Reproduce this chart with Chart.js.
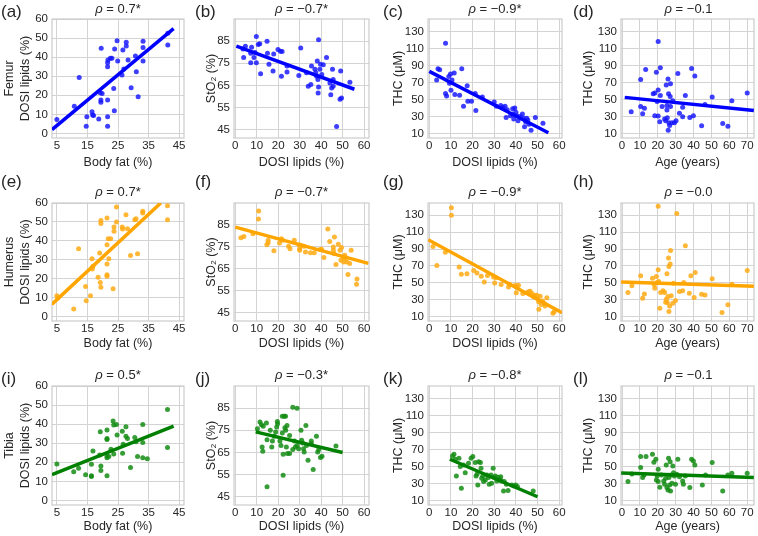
<!DOCTYPE html>
<html lang="en">
<head>
    <meta charset="UTF-8">
    <title>DOSI lipids, StO2 and THC - scatter panels</title>
    <style>
        body {
            margin: 0;
            background: #fff;
            font-family: "Liberation Sans", Arial, sans-serif;
            color: #262626;
        }
        #fig {
            position: relative;
            width: 758px;
            height: 536px;
            overflow: hidden;
        }
        .tag {
            position: absolute;
            font-size: 17px;
            line-height: 17px;
        }
        .rho {
            position: absolute;
            font-size: 13px;
            line-height: 16px;
            text-align: center;
            white-space: nowrap;
        }
    </style>
    <script src="https://cdn.jsdelivr.net/npm/chart.js"></script>
</head>
<body>
<div id="fig"></div>
<script>
    // tick values
    const fatTicks = [5, 15, 25, 35, 45];
    const lipidTicks = [0, 10, 20, 30, 40, 50, 60];
    const sto2Ticks = [45, 55, 65, 75, 85];
    const thcTicks = [10, 30, 50, 70, 90, 110, 130];
    const ageTicks = [0, 10, 20, 30, 40, 50, 60, 70];

    // axis limits
    const fatRange = [3.4, 46.6];
    const lipidRangeB = [-0.6, 62.3];
    const lipidRangeC = [-0.6, 61.3];
    const ageRange = [-0.6, 73.8];
    const lipidYRange = [-2.4, 60];
    const sto2Range = [41.3, 95];
    const thcRange = [4.8, 144.5];

    const boneNames = ['Femur', 'Humerus', 'Tibia'];
    const rhoLabels = ['0.7*', '−0.7*', '−0.9*', '−0.1',
                       '0.7*', '−0.7*', '−0.9*', '−0.0',
                       '0.5*', '−0.3*', '−0.8*', '−0.1'];

    // (a) femur lipids vs body fat
    const ptsA = [[5,7.3],[10.7,14.3],[12.3,29.3],[14.6,3.8],[14.8,8.7],[16.5,11.4],[16.7,9.6],[17,9.4],[18.7,7.5],[19.4,17.5],[19.4,16.3],[19.5,44.6],[19.2,21.3],[19.8,21],[21.6,3.8],[21.6,8.7],[21.6,17.5],[21.6,35],[21.6,37.1],[21.7,38.5],[22.5,39.4],[23,39.4],[23.6,23.6],[23.8,11.9],[23.9,44.3],[24.7,48.6],[24.9,38],[26.3,30.6],[26.6,43.7],[26.9,33.8],[27.7,45.8],[27.7,47.8],[28.3,38.5],[29.3,24],[30.7,40.6],[31,32.4],[31.6,19.2],[33.2,48.3],[33.2,45.1],[33.2,38],[41.3,46.4],[41.3,52.5]];
    const fitA = [[3.4, 2], [43.2, 55]];

    // (b) StO2 vs femur lipids
    const ptsB = [[3.6,81.5],[3.9,77.6],[4.7,82.7],[7.2,79.6],[7.2,75.3],[7.6,82.2],[8.7,77.6],[9.2,79.9],[9.8,75.3],[9.8,87.1],[10.7,83.5],[11.4,83.8],[11.8,70.3],[14.8,85],[15,79.5],[15.7,74.6],[17.6,71.5],[17.9,79.2],[19.9,81.2],[21,80.4],[21.5,69.2],[21.8,80.3],[24.1,71.1],[24.1,73.8],[29.6,69.5],[30.5,81.9],[33.2,70.7],[34,64.6],[35.2,65.4],[35.5,73.8],[37.1,72.3],[37.5,70.7],[37.9,69.2],[38.2,76.1],[38.5,67.7],[38.6,61.6],[38.8,64.3],[38.8,85.6],[39.4,72.3],[39.7,74.6],[40.3,70],[41,74.3],[42.5,77.6],[44.1,66.1],[44.5,60.8],[44.9,63.9],[45.3,72.3],[45.6,64.6],[45.6,67.7],[47.2,46.5],[49.1,71.5],[48.8,58.8],[49.5,59.3],[53.4,66.5]];
    const fitB = [[0.5, 82.8], [55.5, 63.3]];

    // (c) THC vs femur lipids
    const ptsC = [[3.4,73],[4,86],[4.8,85],[7.5,116],[7.5,57],[8,54],[9,77],[9.3,69],[9.8,80],[10,61],[10.5,73],[11.5,81],[11.8,56],[14,55],[15,86],[15.8,42],[17.5,66],[17.8,48],[19.5,48],[21.2,57],[21.5,37],[24.5,53],[30,47],[31,42],[33,43],[34,41],[35,42],[35.5,29],[36,38],[37.5,31],[38.5,33],[38.5,39],[39,27],[39.5,40],[40,35],[40.5,31],[41,25],[42,30],[43,33],[43.5,28],[44,18],[44.5,24],[45,28],[45.5,26],[46,21],[47,14],[49,29],[52.5,22]];
    const fitC = [[0, 83], [55, 11]];

    // (d) femur THC vs age
    const ptsD = [[5.1,35.7],[10.4,73.4],[10.4,41.7],[11.5,33.4],[12.5,39.7],[13.2,85.2],[17.4,56.7],[18.3,57.5],[18.3,31],[19.2,82.1],[19.6,47.6],[20.2,61.1],[20.2,30.6],[20.2,118.1],[21.4,87.2],[21.4,54.8],[21.1,23.9],[22.4,41.7],[23.8,27],[24.4,25],[24.7,67],[25.1,37.7],[25.1,42.9],[25.3,28.6],[25.7,74.2],[26,56.7],[26.2,22.7],[26.6,19.5],[25.8,14],[26.9,53.6],[27.1,41.7],[27.1,68.6],[27.9,22.7],[28.4,48.4],[29.3,22.7],[30.2,25],[31.2,80.5],[32.1,33.8],[33.9,40.9],[33.9,29.8],[35.4,54.8],[37.9,29],[38.9,86.4],[39.9,31],[40.7,77.7],[44.5,19.1],[46.4,44.1],[50.4,52.8],[56.3,21.9],[59.2,18.7],[61.4,48.4],[70,57.5]];
    const fitD = [[1.5, 52.5], [73.7, 37]];

    // (e) humerus lipids vs body fat
    const ptsE = [[5,10.9],[5.3,9.7],[10.5,3.9],[12.1,35.8],[14.4,15.9],[14.6,8.3],[16,10.9],[16.5,30.5],[16.6,25.1],[16.8,26.5],[18.5,20.8],[19,33.5],[19.2,18],[19.4,15.4],[19.4,50.8],[19.4,49.1],[21.4,52.1],[21.4,37.9],[21.4,27.7],[21.4,22.1],[21.4,21.2],[21.8,41.1],[22.6,41.1],[22,30.5],[23.4,14.6],[23.7,45],[23.7,47.3],[24.5,57.9],[24.5,49.9],[26.4,47.3],[26.5,46.2],[27.6,53.8],[28.1,46.4],[29.1,32.3],[30.5,51.2],[30.9,51.7],[31.4,33.2],[33.1,55.6],[33.1,54.7],[41.2,58.6],[41.2,51.2]];
    const fitE = [[3.4, 6.5], [39, 60]];

    // (f) StO2 vs humerus lipids
    const ptsF = [[2.6,79.2],[4,79.8],[8.2,81],[10.9,91.4],[10.8,87.7],[14.7,76],[15.3,78],[15.3,76.9],[18,73.3],[20.6,76.8],[21.5,78.7],[22,78],[24.8,75.3],[25.5,74.2],[27.5,78],[29.7,76],[30,74.2],[30,73.5],[30.8,75.7],[32,75.3],[32.7,72.7],[35,72.4],[36.8,72.4],[39.5,73.8],[40.2,73.9],[41.3,70.2],[43.1,83.2],[44,77.5],[45.7,75],[45.7,73.5],[46,72],[46.2,79.5],[46.9,67],[48,76.2],[48.8,73.5],[49.2,69],[49.5,74.7],[50.3,70.2],[50.5,68.2],[51,71.2],[51.4,69.7],[52,68.2],[52.5,62.5],[53.3,67.5],[54,73.5],[56.7,60.4],[56.5,58]];
    const fitF = [[0, 84], [62, 67.5]];

    // (g) THC vs humerus lipids
    const ptsG = [[1.7,92.9],[3.5,70.6],[7.4,86.2],[10.2,139],[10.2,130],[13.8,68.6],[14.8,60],[17.4,60.8],[20.5,64.7],[22,61.6],[24,57.7],[25.4,51],[26.9,58.8],[29.7,56.9],[30.2,49.9],[30.8,56.1],[33.2,47.9],[36.6,45.2],[37.1,48.3],[39.7,47.1],[40.2,38.1],[40.5,45.2],[41.2,47.1],[43.2,37.3],[45.1,38.1],[45.8,39.3],[46.6,40.1],[47.4,37.3],[48.2,33.4],[48.6,35.4],[49.7,35.4],[50,31.5],[50.5,27.6],[50.6,18.6],[51.2,34.2],[51.7,24.4],[52.3,28.4],[53.1,25.6],[53.5,22.5],[54.3,32.3],[57.1,13.9],[57.7,15.8]];
    const fitG = [[-0.5, 101], [61.3, 14.5]];

    // (h) humerus THC vs age
    const ptsH = [[3.3,38.5],[5.5,46.4],[10.4,58.3],[11.5,31.8],[12.5,36.9],[17,55.5],[18,47.6],[18.3,43.7],[19.2,57.5],[19.6,50.4],[20.2,140.7],[20.2,65.4],[20.5,51.6],[21.1,19.9],[21.6,38.5],[22.9,40.5],[23.8,38.5],[24.4,27],[24.7,30.6],[25.1,60.7],[25.3,26.6],[25.7,33.8],[26,79.3],[26.2,69.4],[26.6,22.7],[26.2,16],[26.9,72.2],[27.1,88.4],[27.5,34.6],[28.4,25.8],[28.8,49.6],[29.9,29],[30.6,132],[32.1,39.7],[33.9,40.5],[34.5,50.4],[35.4,94],[37.6,37.7],[38.5,58.3],[40.3,32.6],[40.9,62.3],[44.5,36.5],[46.4,35.7],[50.4,54.7],[55.9,14.8],[59.2,23.9],[61.4,48.4],[70,64.7]];
    const fitH = [[-0.5, 51], [73.7, 45.8]];

    // (i) tibia lipids vs body fat
    const ptsI = [[5,19.1],[10.5,15.1],[12.1,16.9],[14.4,13.4],[16.3,12.5],[16.3,13],[16.8,25.9],[16.3,19],[19.2,36],[19.4,18.1],[19.4,15.7],[19,23.8],[21.4,36.9],[21.4,32.5],[21.4,32],[21.4,23.3],[21.4,22.4],[21.4,13],[22,23],[22.7,26.8],[23.4,41.6],[23.6,39.5],[24.5,39.8],[23.6,24.3],[24.7,34.3],[26.4,36.3],[26.5,24.7],[26.7,29.4],[27.6,38.6],[27.6,33.7],[28.1,32.5],[29.1,17.2],[30.5,33],[30.9,30.8],[31.4,23],[33.1,39.8],[33.1,30.4],[33.1,22.4],[34.6,21.9],[41.2,47.7],[41.2,27.8]];
    const fitI = [[3.4, 13.5], [43.2, 39]];

    // (j) StO2 vs tibia lipids
    const ptsJ = [[10.3,75.7],[11.5,78.7],[12.2,77.5],[12.5,67.5],[12.8,65.5],[13,76.8],[14.5,78.3],[14.8,70.8],[14.8,49.5],[16.3,75],[17,67.5],[17.3,70.2],[18.2,72.3],[18.8,74.2],[19.3,76.5],[19.6,79],[19.7,78],[20.8,70.2],[21.3,68.2],[21.9,81.3],[21.9,73.8],[22.3,64.2],[22.3,54.7],[22.8,81.3],[23.1,76.2],[23.4,81.3],[23.5,75],[23.8,67.5],[24.1,77.2],[24.3,64.5],[25.3,72.7],[25.3,64.5],[26.8,85.4],[26.8,66.3],[27.6,70.2],[28,67.5],[28.8,85],[28.8,68.2],[29.5,66.7],[30.6,75],[30.9,70.5],[31.4,69.3],[31.8,66.7],[32.1,65.2],[32.9,77.2],[33.2,68.2],[33.9,61.5],[35.4,70.2],[35.4,69],[36.3,57.3],[37.8,72.3],[38.4,65.2],[38.9,66.3],[39.7,62.7],[40.4,63.3],[46.9,67.9]];
    const fitJ = [[9.5, 74.3], [50, 65]];

    // (k) THC vs tibia lipids
    const ptsK = [[10.7,62.4],[11.4,64.3],[12,58.5],[12.5,38.9],[13.7,59.6],[14.3,49.9],[14.8,24.4],[15.8,51.8],[16.6,42.8],[18.1,53.8],[19.3,59.6],[20.1,61.6],[21.2,54.6],[21.6,38.9],[22.1,41.3],[22.4,28.4],[22.8,55.7],[23.6,54.6],[23.9,47.9],[24.2,36.2],[24.7,38.9],[25.1,32.3],[25.9,34.2],[26.6,40.1],[27.3,37],[27.7,29.1],[28.5,40.1],[28.8,30.3],[29.5,47.9],[30,37],[30.5,38.9],[31.2,33],[31.8,37.3],[32.6,35],[33,38.1],[33.3,33],[34.3,21.3],[34.6,32.3],[35.6,29.1],[36.4,21.7],[38.1,28.4],[39.1,27.2],[39.9,28.4],[40.7,26.4],[48,21.3]];
    const fitK = [[9.5, 58.5], [50, 14.5]];

    // (l) tibia THC vs age
    const ptsL = [[3.3,32.3],[5.5,41.3],[10.4,48.7],[10.4,61.6],[11.5,37],[12.3,40.1],[13.4,61.6],[17,64.3],[17.8,54.9],[18.9,58.5],[19.2,34.2],[19.6,38.9],[20.2,32.3],[20.2,46.7],[21.1,25.6],[22,40.1],[23.3,33],[23.8,29.1],[24.4,36.2],[24.7,51.8],[25.1,25.2],[25.7,22.5],[26,59.6],[26.2,37],[26.6,28.4],[26.9,55.7],[27.1,21.3],[27.5,40.1],[27.9,30.3],[28.4,50.6],[28.8,42.8],[29.3,38.9],[29.9,29.1],[30.6,40.9],[31.2,58.5],[32.1,38.1],[33.9,33],[34.3,29.1],[35.4,38.9],[37.9,25.2],[38.9,58.5],[39.9,56.5],[40.7,51.8],[44.9,28.4],[46.7,40.1],[50.4,54.6],[56.3,21.3],[59.2,40.1],[61.4,42],[70,42]];
    const fitL = [[-0.5, 42.5], [73.7, 37]];

    const allPts = [ptsA, ptsB, ptsC, ptsD, ptsE, ptsF, ptsG, ptsH, ptsI, ptsJ, ptsK, ptsL];
    const allFits = [fitA, fitB, fitC, fitD, fitE, fitF, fitG, fitH, fitI, fitJ, fitK, fitL];

    // colours per row (bone)
    const lineColors = ['#0000ff', '#ffa500', '#008000'];
    const dotColors = ['rgba(20,20,255,0.82)', 'rgba(255,170,20,0.85)', 'rgba(20,140,20,0.85)'];

    // x axis per column
    const xAxes = [
        {title: 'Body fat (%)', ticks: fatTicks, range: fatRange},
        {title: 'DOSI lipids (%)', ticks: lipidTicks, range: lipidRangeB},
        {title: 'DOSI lipids (%)', ticks: lipidTicks, range: lipidRangeC},
        {title: 'Age (years)', ticks: ageTicks, range: ageRange}
    ];
    // y axis per column (first one gets the bone name)
    const yAxes = [
        {title: null, ticks: lipidTicks, range: lipidYRange},
        {title: 'StO₂ (%)', ticks: sto2Ticks, range: sto2Range},
        {title: 'THC (μM)', ticks: thcTicks, range: thcRange},
        {title: 'THC (μM)', ticks: thcTicks, range: thcRange}
    ];

    // layout of the grid
    const cols = [
        {left: 0,   plotLeft: 52,  plotRight: 184, padR: 8, titlePad: 1.5, tagX: 1},
        {left: 198, plotLeft: 234, plotRight: 369, padR: 8, titlePad: 5, tagX: 195},
        {left: 385, plotLeft: 428, plotRight: 562, padR: 8, titlePad: 5, tagX: 383},
        {left: 575, plotLeft: 621, plotRight: 756, padR: 2, titlePad: 5, tagX: 573}
    ];
    const rows = [
        {top: 0,   plotTop: 19,  plotBottom: 138, axisH: 33, tagY: 3,   rhoY: 9},
        {top: 176, plotTop: 203, plotBottom: 321, axisH: 31, tagY: 173, rhoY: 192},
        {top: 360, plotTop: 386, plotBottom: 505, axisH: 30, tagY: 370, rhoY: 375}
    ];
    const tags = 'abcdefghijkl';

    const textColor = '#262626';
    const gridColor = '#d3d3d3';
    const fontFamily = '"Liberation Sans", Arial, sans-serif';

    // plot frame (all four spines)
    const framePlugin = {
        id: 'frame',
        beforeDatasetsDraw(chart) {
            const {ctx, chartArea: a} = chart;
            ctx.save();
            ctx.strokeStyle = '#cccccc';
            ctx.lineWidth = 1.2;
            ctx.strokeRect(a.left, a.top, a.right - a.left, a.bottom - a.top);
            ctx.restore();
        }
    };

    const toXY = arr => arr.map(p => ({x: p[0], y: p[1]}));
    const fig = document.getElementById('fig');

    allPts.forEach((pts, i) => {
        const row = Math.floor(i / 4), col = i % 4;
        const c = cols[col], r = rows[row];
        const xa = xAxes[col], ya = yAxes[col];
        const w = c.plotRight + c.padR - c.left;
        const h = r.plotBottom + r.axisH - r.top;

        const canvas = document.createElement('canvas');
        canvas.width = w;
        canvas.height = h;
        canvas.style.cssText = `position:absolute;left:${c.left}px;top:${r.top}px;width:${w}px;height:${h}px;`;
        fig.appendChild(canvas);

        const tag = document.createElement('div');
        tag.className = 'tag';
        tag.style.left = c.tagX + 'px';
        tag.style.top = r.tagY + 'px';
        tag.textContent = '(' + tags[i] + ')';
        fig.appendChild(tag);

        const rho = document.createElement('div');
        rho.className = 'rho';
        rho.style.left = c.plotLeft + 'px';
        rho.style.width = (c.plotRight - c.plotLeft) + 'px';
        rho.style.top = (r.rhoY - 8) + 'px';
        rho.innerHTML = '<i>ρ</i> = ' + rhoLabels[i];
        fig.appendChild(rho);

        const yTitle = col === 0 ? [boneNames[row], 'DOSI lipids (%)'] : ya.title;

        new Chart(canvas.getContext('2d'), {
            type: 'scatter',
            data: {
                datasets: [{
                    data: toXY(allFits[i]),
                    showLine: true,
                    borderColor: lineColors[row],
                    borderWidth: 3.5,
                    pointRadius: 0,
                    order: 0
                }, {
                    data: toXY(pts),
                    backgroundColor: dotColors[row],
                    borderWidth: 0,
                    pointRadius: 2.5,
                    order: 1
                }]
            },
            options: {
                responsive: false,
                animation: false,
                devicePixelRatio: 1,
                layout: {
                    padding: {top: r.plotTop - r.top, right: c.padR, left: 0, bottom: 0}
                },
                plugins: {
                    legend: {display: false},
                    tooltip: {enabled: false}
                },
                scales: {
                    x: {
                        type: 'linear',
                        min: xa.range[0],
                        max: xa.range[1],
                        afterBuildTicks: s => { s.ticks = xa.ticks.map(v => ({value: v})); },
                        afterFit: s => { s.height = r.axisH; },
                        grid: {color: gridColor, lineWidth: 1, drawTicks: false},
                        border: {display: false},
                        ticks: {
                            padding: 1,
                            color: textColor,
                            font: {family: fontFamily, size: 11.5},
                            maxRotation: 0,
                            callback: v => String(v)
                        },
                        title: {
                            display: true,
                            text: xa.title,
                            color: textColor,
                            font: {family: fontFamily, size: 12.5, lineHeight: 1.2},
                            padding: {top: 0, bottom: 1}
                        }
                    },
                    y: {
                        type: 'linear',
                        min: ya.range[0],
                        max: ya.range[1],
                        afterBuildTicks: s => { s.ticks = ya.ticks.map(v => ({value: v})); },
                        afterFit: s => { s.width = c.plotLeft - c.left; },
                        grid: {color: gridColor, lineWidth: 1, drawTicks: false},
                        border: {display: false},
                        ticks: {
                            padding: 4,
                            color: textColor,
                            font: {family: fontFamily, size: 11.5},
                            callback: v => String(v)
                        },
                        title: {
                            display: true,
                            text: yTitle,
                            color: textColor,
                            font: {family: fontFamily, size: 12.5, lineHeight: 1.3},
                            padding: {top: c.titlePad, bottom: 0}
                        }
                    }
                }
            },
            plugins: [framePlugin]
        });
    });
</script>
</body>
</html>
